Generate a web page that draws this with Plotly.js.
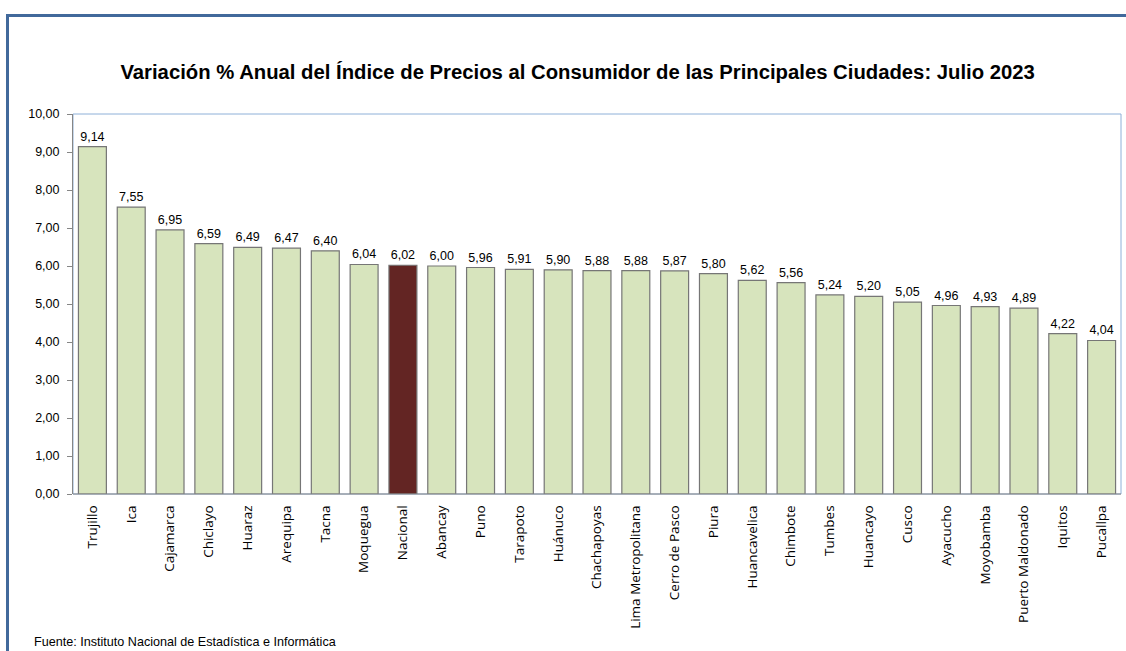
<!DOCTYPE html>
<html><head><meta charset="utf-8">
<script src="https://cdn.plot.ly/plotly-3.0.1.min.js"></script>
<style>
html,body{margin:0;padding:0;background:#fff;overflow:hidden;}
#frame{position:absolute;left:6px;top:14px;width:1130px;height:700px;border-left:3px solid #41699b;border-top:3px solid #41699b;box-sizing:border-box;}
#chart{position:absolute;left:0;top:0;width:1126px;height:651px;}
</style></head>
<body>
<div id="frame"></div>
<div id="chart"></div>
<script>
const cities = ["Trujillo","Ica","Cajamarca","Chiclayo","Huaraz","Arequipa","Tacna","Moquegua","Nacional","Abancay","Puno","Tarapoto","Huánuco","Chachapoyas","Lima Metropolitana","Cerro de Pasco","Piura","Huancavelica","Chimbote","Tumbes","Huancayo","Cusco","Ayacucho","Moyobamba","Puerto Maldonado","Iquitos","Pucallpa"];
const values = [9.14,7.55,6.95,6.59,6.49,6.47,6.40,6.04,6.02,6.00,5.96,5.91,5.90,5.88,5.88,5.87,5.80,5.62,5.56,5.24,5.20,5.05,4.96,4.93,4.89,4.22,4.04];
const yTicks = [0,1,2,3,4,5,6,7,8,9,10];
const titleText = "Variación % Anual del Índice de Precios al Consumidor de las Principales Ciudades: Julio 2023";
const sourceText = "Fuente: Instituto Nacional de Estadística e Informática";

const colors = cities.map(c => c === "Nacional" ? "#632523" : "#d7e4bd");
const labels = values.map(v => v.toFixed(2).replace(".", ","));

const trace = {
  type: "bar",
  x: cities,
  y: values,
  marker: {color: colors, line: {color: "#767676", width: 1.2}},
  text: labels,
  textposition: "outside",
  cliponaxis: false,
  textfont: {family: "Liberation Sans, Arial, sans-serif", size: 12.5, color: "#000"},
  hoverinfo: "none"
};

const layout = {
  width: 1126, height: 651,
  margin: {l: 73, r: 5, t: 114, b: 157},
  paper_bgcolor: "rgba(0,0,0,0)",
  plot_bgcolor: "rgba(0,0,0,0)",
  bargap: 0.28,
  separators: ",.",
  showlegend: false,
  title: {text: "<b>" + titleText + "</b>", x: 0.513, xanchor: "center", y: 0.889, yanchor: "middle",
          font: {family: "Liberation Sans, Arial, sans-serif", size: 20.3, color: "#000"}},
  xaxis: {
    type: "category", tickangle: -90, showgrid: false, zeroline: false,
    showline: false, ticks: "outside", ticklen: 5, tickcolor: "rgba(0,0,0,0)",
    tickfont: {family: "Open Sans, Noto Sans, sans-serif", size: 13.5, color: "#000"},
    fixedrange: true
  },
  yaxis: {
    range: [0, 10], tickvals: yTicks, tickformat: ".2f", showgrid: false, zeroline: false,
    showline: true, linecolor: "#868686", linewidth: 1,
    ticks: "outside", ticklen: 5, tickcolor: "#868686",
    ticklabelstandoff: 5,
    tickfont: {family: "Liberation Sans, Arial, sans-serif", size: 12.5, color: "#000"},
    fixedrange: true
  },
  shapes: [
    {type: "rect", xref: "paper", yref: "paper", x0: 0, x1: 1, y0: 0, y1: 1, line: {color: "#8eb0d8", width: 1}, layer: "below"},
    {type: "line", xref: "paper", yref: "paper", x0: 0, x1: 1, y0: 0, y1: 0, line: {color: "#868686", width: 1}}
  ],
  annotations: [
    {text: sourceText, xref: "paper", yref: "paper", x: -0.0393, y: -0.389, xanchor: "left", yanchor: "middle",
     showarrow: false, font: {family: "Liberation Sans, Arial, sans-serif", size: 12.6, color: "#000"}}
  ]
};

Plotly.newPlot("chart", [trace], layout, {displayModeBar: false, staticPlot: true});
</script>
</body></html>
